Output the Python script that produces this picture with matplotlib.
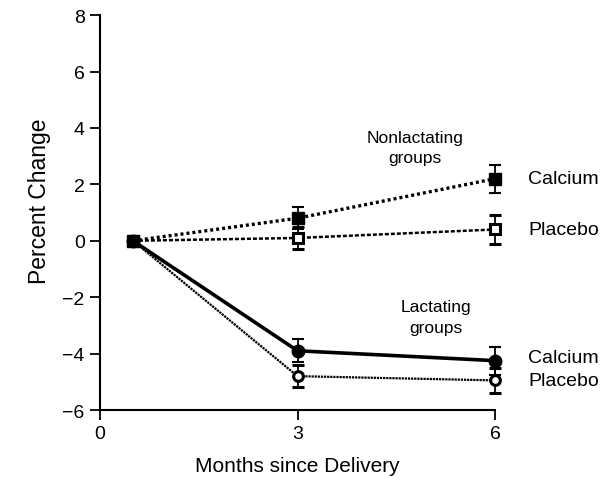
import numpy as np
import matplotlib
matplotlib.use("Agg")
import matplotlib.pyplot as plt

plt.rcParams['font.family'] = ['Liberation Sans', 'DejaVu Sans']

months = [0.5, 3, 6]

nonlact_calcium = [0.0, 0.8, 2.2]
nonlact_calcium_err = [0.0, 0.4, 0.5]
nonlact_placebo = [0.0, 0.1, 0.4]
nonlact_placebo_err = [0.0, 0.4, 0.5]

lact_calcium = [0.0, -3.9, -4.25]
lact_calcium_err = [0.0, 0.4, 0.5]
lact_placebo = [0.0, -4.8, -4.95]
lact_placebo_err = [0.0, 0.4, 0.45]

fig = plt.figure(figsize=(6.04, 4.89), dpi=100)
ax = fig.add_axes([0.1656, 0.1595, 0.654, 0.8075])

common = dict(color='black', ecolor='black', capsize=4, elinewidth=1.3, capthick=1.5, clip_on=False)

ax.errorbar(months, lact_placebo, yerr=lact_placebo_err, fmt='o', linestyle=(0, (1, 0.4)),
            linewidth=1.6, markersize=7, markerfacecolor='white', markeredgewidth=2.2, **common)
ax.errorbar(months, lact_calcium, yerr=lact_calcium_err, fmt='o', linestyle='-',
            linewidth=2.6, markersize=9, markerfacecolor='black', **common)
ax.errorbar(months, nonlact_placebo, yerr=nonlact_placebo_err, fmt='s', linestyle=(0, (1.6, 0.8)),
            linewidth=1.8, markersize=7, markerfacecolor='white', markeredgewidth=2.2, **common)
ax.errorbar(months, nonlact_calcium, yerr=nonlact_calcium_err, fmt='s', linestyle=(0, (0.9, 0.9)),
            linewidth=2.4, markersize=8, markerfacecolor='black', **common)

ax.set_xlim(0, 6)
ax.set_ylim(-6, 8)
ax.set_xticks([0, 3, 6])
ax.set_yticks(np.arange(-6, 9, 2))
ax.spines['top'].set_visible(False)
ax.spines['right'].set_visible(False)
for s in ['left', 'bottom']:
    ax.spines[s].set_linewidth(1.5)
ax.tick_params(direction='out', length=7, width=1.3, labelsize=14, pad=4)

ax.set_xlabel('Months since Delivery', fontsize=15, labelpad=10)
ax.set_ylabel('Percent Change', fontsize=16.5)
ax.yaxis.set_label_coords(-0.125, 0.53)

fs = 12.5
ax.text(4.78, 3.3, 'Nonlactating\ngroups', ha='center', va='center', fontsize=fs, linespacing=1.45)
ax.text(5.1, -2.7, 'Lactating\ngroups', ha='center', va='center', fontsize=fs, linespacing=1.45)
ax.text(6.5, 2.2, 'Calcium', ha='left', va='center', fontsize=14, clip_on=False)
ax.text(6.5, 0.4, 'Placebo', ha='left', va='center', fontsize=14, clip_on=False)
ax.text(6.5, -4.15, 'Calcium', ha='left', va='center', fontsize=14, clip_on=False)
ax.text(6.5, -4.95, 'Placebo', ha='left', va='center', fontsize=14, clip_on=False)

fig.savefig('out.png', dpi=100)
